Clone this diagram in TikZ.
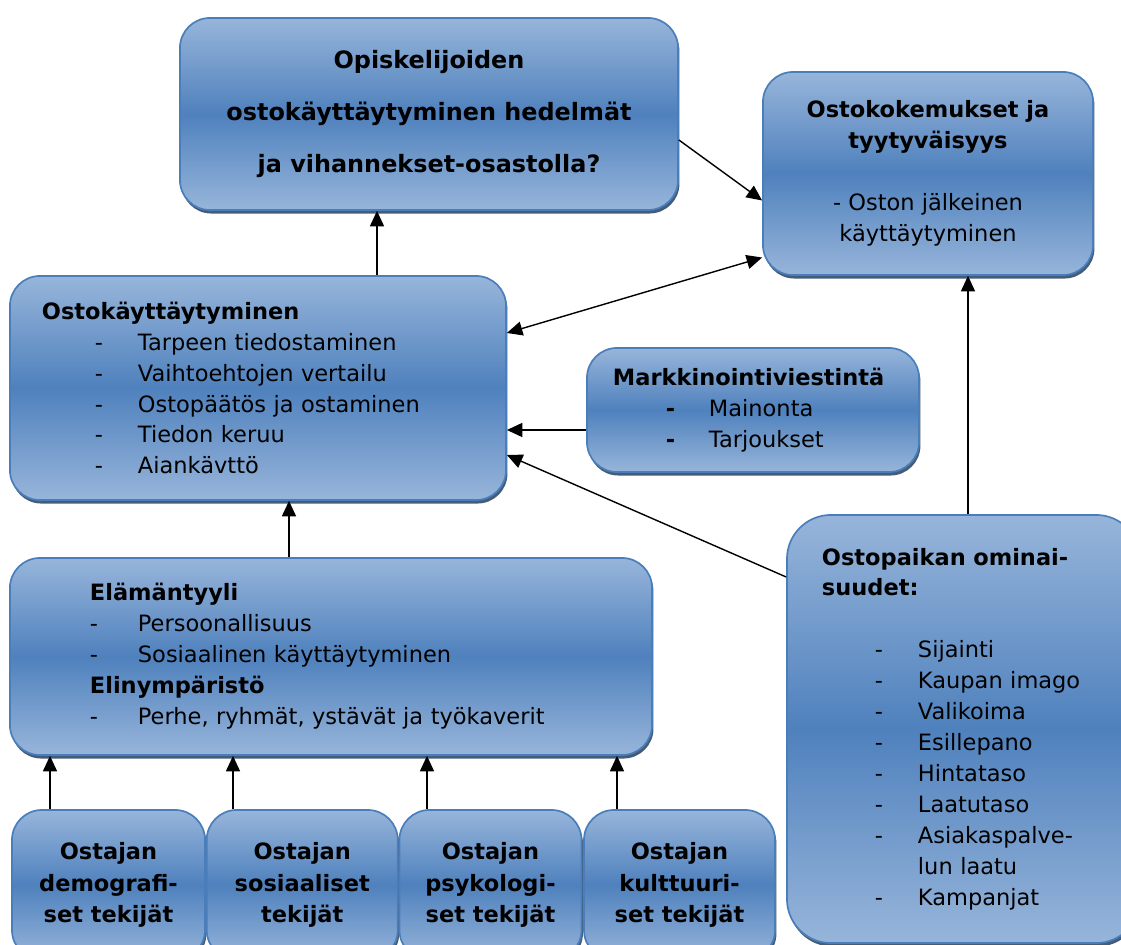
\documentclass[tikz,border=0pt]{standalone}
\usepackage{fontspec}
\setmainfont{DejaVu Sans}
\usetikzlibrary{positioning}
\usetikzlibrary{arrows.meta}
\usetikzlibrary{shadows}

\definecolor{boxlight}{HTML}{97B5DA}
\definecolor{boxmid}{HTML}{4F81BD}
\definecolor{boxline}{HTML}{4A7EBB}
\definecolor{boxshadow}{HTML}{243F60}

\newcommand{\kohta}[2][-]{\makebox[2.4cm][l]{\hspace{1.325cm}#1}#2}
\newcommand{\alakohta}[1]{\makebox[1.2cm][l]{-}#1}

\begin{document}
\begin{tikzpicture}[x=0.025cm, y=-0.025cm,
                          box/.style={rectangle, draw=boxline, line width=1.2pt, rounded corners=0.75cm, top color=boxlight, bottom color=boxlight, middle color=boxmid, drop shadow={shadow xshift=1pt, shadow yshift=-2.5pt, fill=boxshadow, opacity=0.85}, font={\fontsize{16pt}{22pt}\selectfont}, inner ysep=0pt},
                          listbox/.style={box, align=left},
                          keskibox/.style={box, align=center},
                          factorbox/.style={keskibox, font={\fontsize{16pt}{22.5pt}\selectfont\bfseries}, minimum height=3.75cm},
                          arr/.style={-{Triangle[length=11pt,width=10pt]}, line width=1pt},
                          arr_both/.style={{Triangle[length=11pt,width=10pt]}-{Triangle[length=11pt,width=10pt]}, line width=1pt},
                      ]
                      \useasboundingbox (0,0) rectangle (1121,945);

                      %Nodes
                      \node[keskibox, minimum width=12.45cm, minimum height=4.8cm, font={\fontsize{17pt}{37pt}\selectfont\bfseries}] (kysymys) at (429,114) {Opiskelijoiden\\ostokäyttäytyminen hedelmät\\ja vihannekset-osastolla?};
                      \node[keskibox, minimum width=8.25cm, minimum height=5.075cm] (kokemus) at (928,173.5) {\textbf{Ostokokemukset ja}\\\textbf{tyytyväisyys}\\[22pt]- Oston jälkeinen\\käyttäytyminen};
                      \node[listbox, text width=10.8cm, inner xsep=0.8cm, minimum height=5.6cm] (ostok) at (258,388) {\textbf{Ostokäyttäytyminen}\\\kohta{Tarpeen tiedostaminen}\\\kohta{Vaihtoehtojen vertailu}\\\kohta{Ostopäätös ja ostaminen}\\\kohta{Tiedon keruu}\\\kohta{Aiankävttö}};
                      \node[listbox, text width=7cm, inner xsep=0.65cm, minimum height=3.1cm] (markk) at (753,410) {\textbf{Markkinointiviestintä}\\\kohta[\textbf{-}]{Mainonta}\\\kohta[\textbf{-}]{Tarjoukset}};
                      \node[listbox, text width=12.05cm, inner xsep=2cm, minimum height=4.925cm] (elama) at (331,656.5) {\textbf{Elämäntyyli}\\\alakohta{Persoonallisuus}\\\alakohta{Sosiaalinen käyttäytyminen}\\\textbf{Elinympäristö}\\\alakohta{Perhe, ryhmät, ystävät ja työkaverit}};
                      \node[factorbox, minimum width=4.825cm] (ostaja1) at (108.5,885) {Ostajan\\demografi-\\set tekijät};
                      \node[factorbox, minimum width=4.775cm, right=0pt of ostaja1] (ostaja2) {Ostajan\\sosiaaliset\\tekijät};
                      \node[factorbox, minimum width=4.55cm, right=0pt of ostaja2] (ostaja3) {Ostajan\\psykologi-\\set tekijät};
                      \node[factorbox, minimum width=4.775cm, right=0.02cm of ostaja3] (ostaja4) {Ostajan\\kulttuuri-\\set tekijät};
                      \node[listbox, rounded corners=1.1cm, text width=7.075cm, inner xsep=0.875cm, minimum height=10.7cm] (paikka) at (963.5,729) {\textbf{Ostopaikan ominai-}\\\textbf{suudet:}\\[22pt]\kohta{Sijainti}\\\kohta{Kaupan imago}\\\kohta{Valikoima}\\\kohta{Esillepano}\\\kohta{Hintataso}\\\kohta{Laatutaso}\\\kohta{Asiakaspalve-}\\\kohta[]{lun laatu}\\\kohta{Kampanjat}};

                      \coordinate (x_kysymys) at (377,0);
                      \coordinate (x_kokemus) at (968,0);
                      \coordinate (x_elama)   at (289,0);
                      \coordinate (x_1) at (50,0);
                      \coordinate (x_2) at (233,0);
                      \coordinate (x_3) at (427,0);
                      \coordinate (x_4) at (617,0);
                      \coordinate (m_markk) at ([yshift=-0.5cm]markk.west);

                      %Lines
                      \draw[arr] (ostok.north -| x_kysymys) -- (kysymys.south -| x_kysymys);
                      \draw[arr] ([yshift=-0.65cm]kysymys.east) -- ([yshift=-0.675cm]kokemus.west);
                      \draw[arr_both] ([yshift=1.375cm]ostok.east) -- ([yshift=-2.1cm]kokemus.west);
                      \draw[arr] (m_markk) -- (m_markk -| ostok.east);
                      \draw[arr] ([yshift=3.8cm]paikka.west) -- ([yshift=-1.675cm]ostok.east);
                      \draw[arr] (paikka.north -| x_kokemus) -- (kokemus.south -| x_kokemus);
                      \draw[arr] (elama.north -| x_elama) -- (ostok.south -| x_elama);
                      \draw[arr] (ostaja1.north -| x_1) -- (elama.south -| x_1);
                      \draw[arr] (ostaja2.north -| x_2) -- (elama.south -| x_2);
                      \draw[arr] (ostaja3.north -| x_3) -- (elama.south -| x_3);
                      \draw[arr] (ostaja4.north -| x_4) -- (elama.south -| x_4);
                  \end{tikzpicture}
\end{document}
